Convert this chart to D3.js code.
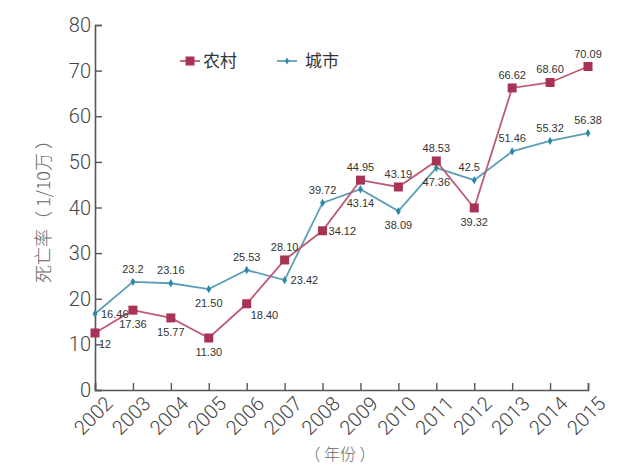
<!DOCTYPE html>
<html>
<head>
<meta charset="utf-8">
<script src="https://cdn.jsdelivr.net/npm/d3@7"></script>
<style>
  body { margin: 0; background: #fff; }
  svg { display: block; font-family: "Liberation Sans", Arial, sans-serif; }
</style>
</head>
<body>
<div id="chart"></div>
<script>
var years = [2002, 2003, 2004, 2005, 2006, 2007, 2008, 2009, 2010, 2011, 2012, 2013, 2014, 2015];
// plotted values
var rural = [12.5, 17.5, 15.8, 11.4, 18.9, 28.5, 34.9, 46.0, 44.5, 50.2, 39.9, 66.2, 67.4, 70.9];
var urban = [16.7, 23.7, 23.4, 22.1, 26.3, 24.1, 41.0, 44.0, 39.2, 48.7, 46.0, 52.3, 54.6, 56.3];
// labels as printed on the chart
var ruralLabels = ['12', '17.36', '15.77', '11.30', '18.40', '28.10', '34.12', '44.95', '43.19', '48.53', '39.32', '66.62', '68.60', '70.09'];
var urbanLabels = ['16.46', '23.2', '23.16', '21.50', '25.53', '23.42', '39.72', '43.14', '38.09', '47.36', '42.5', '51.46', '55.32', '56.38'];
var ruralLabelPos = ['br', 'b', 'b', 'b', 'br', 'a', 'r', 'a', 'a', 'a', 'b', 'a', 'a', 'a'];
var urbanLabelPos = ['r', 'a', 'a', 'b', 'a', 'r', 'a', 'b', 'b', 'b', 'al', 'a', 'a', 'a'];
var yTicks = [0, 10, 20, 30, 40, 50, 60, 70, 80];

var width = 640, height = 470;
var mLeft = 95, mRight = 588, mTop = 25, mBottom = 390;

var svg = d3.select('#chart').append('svg')
  .attr('width', width)
  .attr('height', height);

var x = d3.scaleLinear().domain([2002, 2015]).range([mLeft, mRight]);
var y = d3.scaleLinear().domain([0, 80]).range([mBottom, mTop]);

var axisColor = '#555';
var tickFont = 'Roboto, "Liberation Sans", sans-serif';

// y axis
var yAxis = svg.append('g')
  .attr('transform', 'translate(' + mLeft + ',0)')
  .call(d3.axisRight(y).tickValues(yTicks).tickSize(7).tickFormat(''));
yAxis.select('.domain').attr('stroke', axisColor).attr('stroke-width', 1.6);
yAxis.selectAll('.tick line').attr('stroke', axisColor).attr('stroke-width', 1.4);
svg.append('g').selectAll('text')
  .data(yTicks)
  .enter().append('text')
  .attr('x', mLeft - 4)
  .attr('y', function (d) { return y(d) + 7; })
  .attr('text-anchor', 'end')
  .attr('font-family', tickFont)
  .attr('font-weight', 300)
  .attr('font-size', 20)
  .attr('fill', '#444')
  .text(function (d) { return d; });

// x axis
var xAxis = svg.append('g')
  .attr('transform', 'translate(0,' + mBottom + ')')
  .call(d3.axisTop(x).tickValues(years).tickSize(7).tickFormat(''));
xAxis.select('.domain').attr('stroke', axisColor).attr('stroke-width', 1.6);
xAxis.selectAll('.tick line').attr('stroke', axisColor).attr('stroke-width', 1.4);
svg.append('g').selectAll('text')
  .data(years)
  .enter().append('text')
  .attr('transform', function (d) { return 'translate(' + (x(d) + 9) + ',' + (mBottom + 5) + ') rotate(-45)'; })
  .attr('text-anchor', 'end')
  .attr('dy', '0.7em')
  .attr('font-family', tickFont)
  .attr('font-weight', 300)
  .attr('font-size', 20)
  .attr('fill', '#444')
  .text(function (d) { return d; });

// axis titles
svg.append('text')
  .attr('transform', 'translate(50,207) rotate(-90)')
  .attr('text-anchor', 'middle')
  .attr('font-family', '"Noto Sans CJK SC", sans-serif')
  .attr('font-weight', 300)
  .attr('font-size', 18)
  .attr('fill', '#666')
  .text('死亡率（ 1/10万 ）');
svg.append('text')
  .attr('x', 340)
  .attr('y', 460)
  .attr('text-anchor', 'middle')
  .attr('font-family', '"Noto Sans CJK SC", sans-serif')
  .attr('font-weight', 300)
  .attr('font-size', 16)
  .attr('fill', '#666')
  .text('（ 年份 ）');

var ruralColor = '#a83354', ruralLine = '#c05a73';
var urbanColor = '#2f86a8', urbanLine = '#5b9fb4';

var line = d3.line()
  .x(function (d, i) { return x(years[i]); })
  .y(function (d) { return y(d); });

svg.append('path').datum(urban)
  .attr('d', line).attr('fill', 'none')
  .attr('stroke', urbanLine).attr('stroke-width', 1.8);
svg.append('path').datum(rural)
  .attr('d', line).attr('fill', 'none')
  .attr('stroke', ruralLine).attr('stroke-width', 1.8);

var diamond = d3.symbol().type(d3.symbolDiamond).size(20);
svg.append('g').selectAll('path')
  .data(urban)
  .enter().append('path')
  .attr('d', diamond)
  .attr('transform', function (d, i) { return 'translate(' + x(years[i]) + ',' + y(d) + ')'; })
  .attr('fill', urbanColor);

svg.append('g').selectAll('rect')
  .data(rural)
  .enter().append('rect')
  .attr('x', function (d, i) { return x(years[i]) - 4.5; })
  .attr('y', function (d) { return y(d) - 4.5; })
  .attr('width', 9).attr('height', 9)
  .attr('fill', ruralColor);

// data labels
function labelOffset(pos) {
  switch (pos) {
    case 'a': return { dx: 0, dy: -9, anchor: 'middle' };
    case 'b': return { dx: 0, dy: 18, anchor: 'middle' };
    case 'r': return { dx: 6, dy: 4, anchor: 'start' };
    case 'br': return { dx: 4, dy: 15, anchor: 'start' };
    case 'al': return { dx: -5, dy: -9, anchor: 'middle' };
  }
}
function drawLabels(values, labels, positions) {
  svg.append('g').selectAll('text')
    .data(values)
    .enter().append('text')
    .each(function (d, i) {
      var o = labelOffset(positions[i]);
      d3.select(this)
        .attr('x', x(years[i]) + o.dx)
        .attr('y', y(d) + o.dy)
        .attr('text-anchor', o.anchor);
    })
    .attr('font-size', 11)
    .attr('fill', '#333')
    .text(function (d, i) { return labels[i]; });
}
drawLabels(rural, ruralLabels, ruralLabelPos);
drawLabels(urban, urbanLabels, urbanLabelPos);

// legend
var legend = svg.append('g').attr('font-family', '"Noto Sans CJK SC", sans-serif');
legend.append('line').attr('x1', 180).attr('x2', 200).attr('y1', 61).attr('y2', 61)
  .attr('stroke', ruralLine).attr('stroke-width', 1.8);
legend.append('rect').attr('x', 185.5).attr('y', 56.5).attr('width', 9).attr('height', 9).attr('fill', ruralColor);
legend.append('text').attr('x', 203).attr('y', 67).attr('font-size', 17).attr('fill', '#333').text('农村');
legend.append('line').attr('x1', 277).attr('x2', 297).attr('y1', 61).attr('y2', 61)
  .attr('stroke', urbanLine).attr('stroke-width', 1.8);
legend.append('path').attr('d', d3.symbol().type(d3.symbolDiamond).size(14)())
  .attr('transform', 'translate(287,61)').attr('fill', urbanColor);
legend.append('text').attr('x', 305).attr('y', 67).attr('font-size', 17).attr('fill', '#333').text('城市');
</script>
</body>
</html>
